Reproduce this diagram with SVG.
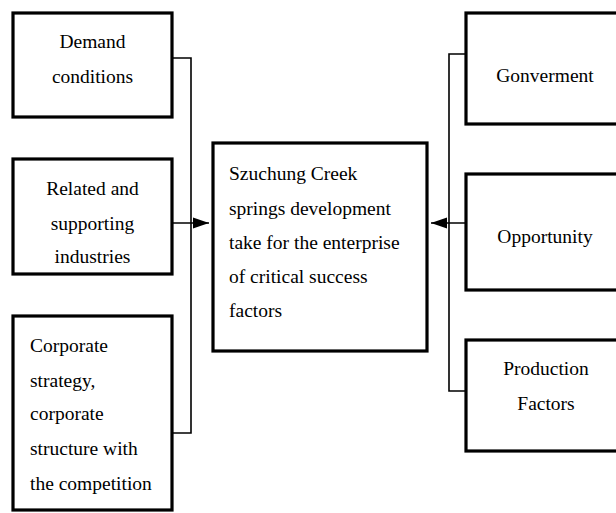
<svg xmlns="http://www.w3.org/2000/svg" width="616" height="513" viewBox="0 0 616 513">
  <style>
    .box { fill: #fff; stroke: #000; stroke-width: 3.2; }
    .ln { fill: none; stroke: #000; stroke-width: 1.6; }
  </style>
  <defs>
    <marker id="ah2" markerWidth="16" markerHeight="12" refX="16" refY="6" orient="auto" markerUnits="userSpaceOnUse" viewBox="0 0 16 12">
      <path d="M0,0.5 L16,6 L0,11.5 Z" fill="#000"/>
    </marker>
  </defs>
  <rect width="616" height="513" fill="#fff"/>
  <g id="connectors">
    <polyline class="ln" points="172,58 191,58 191,433 172,433"/>
    <line class="ln" x1="172" y1="223" x2="209" y2="223" marker-end="url(#ah2)"/>
    <polyline class="ln" points="466,54 449,54 449,391 466,391"/>
    <line class="ln" x1="466" y1="223" x2="431" y2="223" marker-end="url(#ah2)"/>
  </g>
  <g id="demand">
    <rect class="box" x="13" y="13" width="159" height="104"/>
    <text x="92.5" y="48" font-family="Times New Roman, Liberation Serif, serif" font-size="19.5" text-anchor="middle">Demand</text>
    <text x="92.5" y="83" font-family="Times New Roman, Liberation Serif, serif" font-size="19.5" text-anchor="middle">conditions</text>
  </g>
  <g id="related">
    <rect class="box" x="13" y="159" width="159" height="115"/>
    <text x="92.5" y="195" font-family="Times New Roman, Liberation Serif, serif" font-size="19.5" text-anchor="middle">Related and</text>
    <text x="92.5" y="230" font-family="Times New Roman, Liberation Serif, serif" font-size="19.5" text-anchor="middle">supporting</text>
    <text x="92.5" y="263" font-family="Times New Roman, Liberation Serif, serif" font-size="19.5" text-anchor="middle">industries</text>
  </g>
  <g id="corporate">
    <rect class="box" x="13" y="316" width="159" height="194"/>
    <text x="30" y="352" font-family="Times New Roman, Liberation Serif, serif" font-size="19.5">Corporate</text>
    <text x="30" y="387" font-family="Times New Roman, Liberation Serif, serif" font-size="19.5">strategy,</text>
    <text x="30" y="420" font-family="Times New Roman, Liberation Serif, serif" font-size="19.5">corporate</text>
    <text x="30" y="455" font-family="Times New Roman, Liberation Serif, serif" font-size="19.5">structure with</text>
    <text x="30" y="490" font-family="Times New Roman, Liberation Serif, serif" font-size="19.5">the competition</text>
  </g>
  <g id="center">
    <rect class="box" x="213" y="143" width="214" height="208"/>
    <text x="229" y="180" font-family="Times New Roman, Liberation Serif, serif" font-size="19.5">Szuchung Creek</text>
    <text x="229" y="215" font-family="Times New Roman, Liberation Serif, serif" font-size="19.5">springs development</text>
    <text x="229" y="249" font-family="Times New Roman, Liberation Serif, serif" font-size="19.5">take for the enterprise</text>
    <text x="229" y="283" font-family="Times New Roman, Liberation Serif, serif" font-size="19.5">of critical success</text>
    <text x="229" y="317" font-family="Times New Roman, Liberation Serif, serif" font-size="19.5">factors</text>
  </g>
  <g id="government">
    <rect class="box" x="466" y="13" width="170" height="111"/>
    <text x="545" y="82" font-family="Times New Roman, Liberation Serif, serif" font-size="19.5" text-anchor="middle">Gonverment</text>
  </g>
  <g id="opportunity">
    <rect class="box" x="466" y="174" width="170" height="116"/>
    <text x="545" y="243" font-family="Times New Roman, Liberation Serif, serif" font-size="19.5" text-anchor="middle">Opportunity</text>
  </g>
  <g id="production">
    <rect class="box" x="466" y="340" width="170" height="111"/>
    <text x="546" y="375" font-family="Times New Roman, Liberation Serif, serif" font-size="19.5" text-anchor="middle">Production</text>
    <text x="546" y="410" font-family="Times New Roman, Liberation Serif, serif" font-size="19.5" text-anchor="middle">Factors</text>
  </g>
</svg>
